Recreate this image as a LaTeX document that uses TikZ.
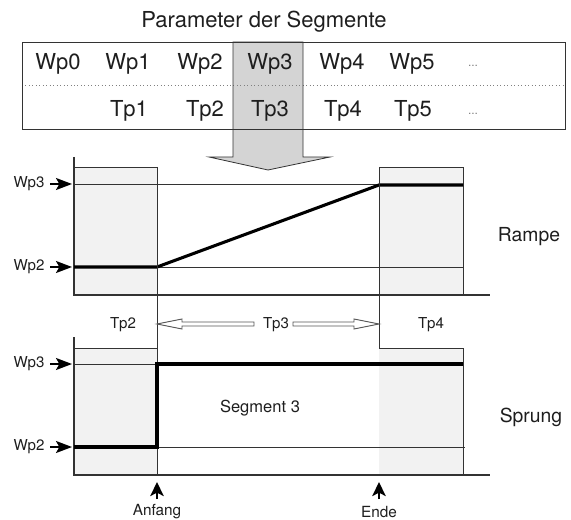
\documentclass[tikz,border=0pt]{standalone}
\usepackage{fontspec}
\setmainfont{TeX Gyre Heros}
\usetikzlibrary{arrows.meta}
\definecolor{boxgray}{HTML}{F2F2F2}
\definecolor{hlgray}{HTML}{D4D4D4}
\definecolor{linegray}{HTML}{333333}
\definecolor{txtcol}{HTML}{1E1E1E}
\definecolor{hollowedge}{HTML}{555555}
\begin{document}
\begin{tikzpicture}[x=0.75pt,y=-0.75pt,
  bigtxt/.style={text=txtcol,inner sep=0pt,font=\fontsize{16.5}{19}\selectfont},
  smalltxt/.style={text=txtcol,inner sep=0pt,font=\fontsize{11.3}{13}\selectfont},
  sidetxt/.style={text=txtcol,inner sep=0pt,font=\fontsize{14.5}{17}\selectfont},
  thinline/.style={draw=linegray,line width=0.6pt},
  thickline/.style={draw=black,line width=2.3pt,line join=miter},
  wparrow/.style={-{Stealth[length=12pt,width=9pt,inset=2.5pt]},line width=1.3pt,black},
  uparrow/.style={-{Stealth[length=10.5pt,width=10pt,inset=2.5pt]},line width=1.8pt,black},
  hollow/.style={fill=white,draw=hollowedge,line width=0.7pt}
]
\useasboundingbox (0,0) rectangle (571,520);

% ---------- title and table ----------
\node[bigtxt] (title) at (264,22) {Parameter der Segmente};

\fill[hlgray] (233,42) -- (303,42) -- (303,157) -- (330,157) -- (268,170) -- (209,157) -- (233,157) -- cycle;
\draw[draw=gray,line width=0.6pt,dotted] (22,85) -- (565,85);
\draw[thinline] (22,42) rectangle (565,129);
\draw[thinline] (233,42) -- (303,42) -- (303,157) -- (330,157) -- (268,170) -- (209,157) -- (233,157) -- cycle;

\node[bigtxt] (wp0) at (58,64) {Wp0};
\node[bigtxt] (wp1) at (128,64) {Wp1};
\node[bigtxt] (wp2) at (200,64) {Wp2};
\node[bigtxt] (wp3) at (270,64) {Wp3};
\node[bigtxt] (wp4) at (342,64) {Wp4};
\node[bigtxt] (wp5) at (412,64) {Wp5};
\node[text=gray,inner sep=0pt,font=\fontsize{9}{10}\selectfont] (wpd) at (473,66) {...};
\node[bigtxt] (tp1) at (129,111) {Tp1};
\node[bigtxt] (tp2) at (205,111) {Tp2};
\node[bigtxt] (tp3) at (270,111) {Tp3};
\node[bigtxt] (tp4) at (343,111) {Tp4};
\node[bigtxt] (tp5) at (413,111) {Tp5};
\node[text=gray,inner sep=0pt,font=\fontsize{9}{10}\selectfont] (tpd) at (473,114) {...};

% ---------- upper chart (Rampe) ----------
\fill[boxgray] (74,167) rectangle (157,295);
\fill[boxgray] (379,167) rectangle (463,295);
\draw[thinline] (74,167) -- (157,167);
\draw[thinline] (379,167) -- (463,167) -- (463,295);
\draw[thinline] (74,184) -- (463,184);
\draw[thinline] (74,267) -- (463,267);
\draw[thinline,line width=0.9pt] (74,157) -- (74,295) -- (490,295);
\draw[thickline] (74,267) -- (157,267) -- (379,185) -- (463,185);

\coordinate (ua3) at (72,184);
\coordinate (ua2) at (72,267);
\node[smalltxt] (uwp3) at (29,184) {Wp3};
\node[smalltxt] (uwp2) at (29,267) {Wp2};
\coordinate (uwp3s) at (50,184);
\coordinate (uwp2s) at (50,267);
\draw[wparrow] (uwp3s) -- (ua3);
\draw[wparrow] (uwp2s) -- (ua2);
\node[sidetxt] (rampe) at (529,237) {Rampe};

% ---------- vertical segment boundaries ----------
\draw[thinline] (157,167) -- (157,475);
\draw[thinline] (379,167) -- (379,475);

% ---------- time labels ----------
\node[smalltxt] (ltp2) at (123,325) {Tp2};
\node[smalltxt] (ltp3) at (276,325) {Tp3};
\node[smalltxt] (ltp4) at (431,325) {Tp4};
\draw[hollow] (157,324) -- (182,319) -- (182,322) -- (254,322) -- (254,326) -- (182,326) -- (182,329) -- cycle;
\draw[hollow] (379,324) -- (354,319) -- (354,322) -- (293,322) -- (293,326) -- (354,326) -- (354,329) -- cycle;

% ---------- lower chart (Sprung) ----------
\fill[boxgray] (74,348) rectangle (157,475);
\fill[boxgray] (379,348) rectangle (463,475);
\draw[thinline] (74,348) -- (157,348);
\draw[thinline] (379,348) -- (463,348) -- (463,475);
\draw[thinline] (74,364) -- (463,364);
\draw[thinline] (74,447) -- (465,447);
\draw[thinline,line width=0.9pt] (74,337) -- (74,475) -- (490,475);
\draw[thickline] (74,447) -- (157,447) -- (157,364) -- (463,364);

\coordinate (la3) at (72,364);
\coordinate (la2) at (72,447);
\node[smalltxt] (lwp3) at (29,364) {Wp3};
\node[smalltxt] (lwp2) at (29,447) {Wp2};
\coordinate (lwp3s) at (50,364);
\coordinate (lwp2s) at (50,447);
\draw[wparrow] (lwp3s) -- (la3);
\draw[wparrow] (lwp2s) -- (la2);
\node[font=\fontsize{12.4}{14}\selectfont,text=txtcol,inner sep=0pt] (seg) at (260,408) {Segment 3};
\node[sidetxt] (sprung) at (531,417) {Sprung};

% ---------- Anfang / Ende ----------
\node[font=\fontsize{11.5}{13}\selectfont,text=txtcol,inner sep=0pt] (anf) at (157,512) {Anfang};
\node[font=\fontsize{11.5}{13}\selectfont,text=txtcol,inner sep=0pt] (ende) at (379,512) {Ende};
\coordinate (anftip) at (157,482);
\coordinate (endtip) at (379,482);
\coordinate (anfs) at (157,499);
\coordinate (ends) at (379,499);
\draw[uparrow] (anfs) -- (anftip);
\draw[uparrow] (ends) -- (endtip);
\end{tikzpicture}
\end{document}
